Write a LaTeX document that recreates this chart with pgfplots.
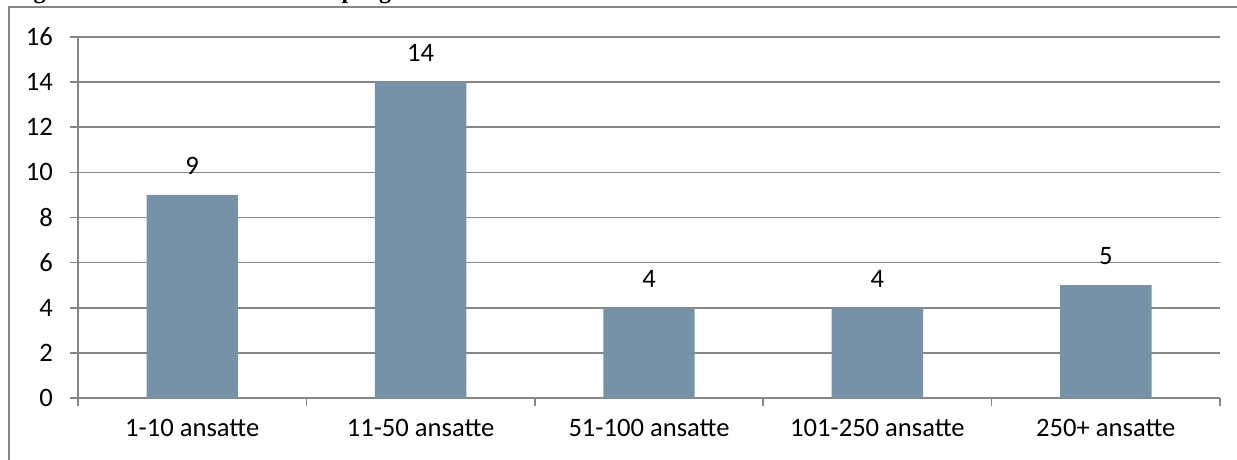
\documentclass[border=0pt]{standalone}
\usepackage{pgfplots}
\pgfplotsset{compat=1.18}
\usepackage{fontspec}
\setmainfont{Carlito}
\newfontfamily\titlefont{Liberation Serif}
\definecolor{barc}{HTML}{7592A6}
\definecolor{gridc}{HTML}{868686}
\begin{document}
\begin{tikzpicture}[x=1bp,y=1bp]
\useasboundingbox (0,0) rectangle (618.5,229.5);
\draw[gridc, line width=0.6bp] (4.5,-5) rectangle (640,226);
\node[anchor=base west, inner sep=0, font={\titlefont\bfseries\fontsize{12bp}{14bp}\selectfont}] at (6,230.2) {Figur 3.4: Antal ansatte i de adspurgte virksomheder};
\begin{axis}[
  at={(39bp,30.5bp)}, anchor=south west,
  scale only axis, width=571bp, height=180.5bp,
  xmin=-0.5, xmax=4.5, ymin=0, ymax=16,
  ytick={0,2,...,16},
  xtick={0,...,4},
  xticklabels={1-10 ansatte,11-50 ansatte,51-100 ansatte,101-250 ansatte,250+ ansatte},
  minor xtick={-0.5,0.5,...,4.5},
  axis x line=bottom, axis y line=left,
  axis line style={-, gridc, line width=0.75bp},
  ymajorgrids, grid style={gridc, line width=0.75bp},
  major tick style={gridc, line width=0.75bp},
  minor tick style={gridc, line width=0.75bp},
  tick align=outside,
  major x tick style={draw=none},
  minor tick length=4bp, major tick length=4bp,
  /pgf/number format/assume math mode=true,
  tick label style={font=\fontsize{13.3bp}{16bp}\selectfont, text=black},
  yticklabel style={xshift=-5bp},
  xticklabel style={yshift=-3bp},
  ybar, bar width=0.4,
  nodes near coords,
  nodes near coords style={font=\fontsize{13.3bp}{16bp}\selectfont, anchor=south, inner sep=0pt, yshift=10bp, text=black},
]
\addplot[fill=barc, draw=none] coordinates {(0,9) (1,14) (2,4) (3,4) (4,5)};
\end{axis}
\end{tikzpicture}
\end{document}
